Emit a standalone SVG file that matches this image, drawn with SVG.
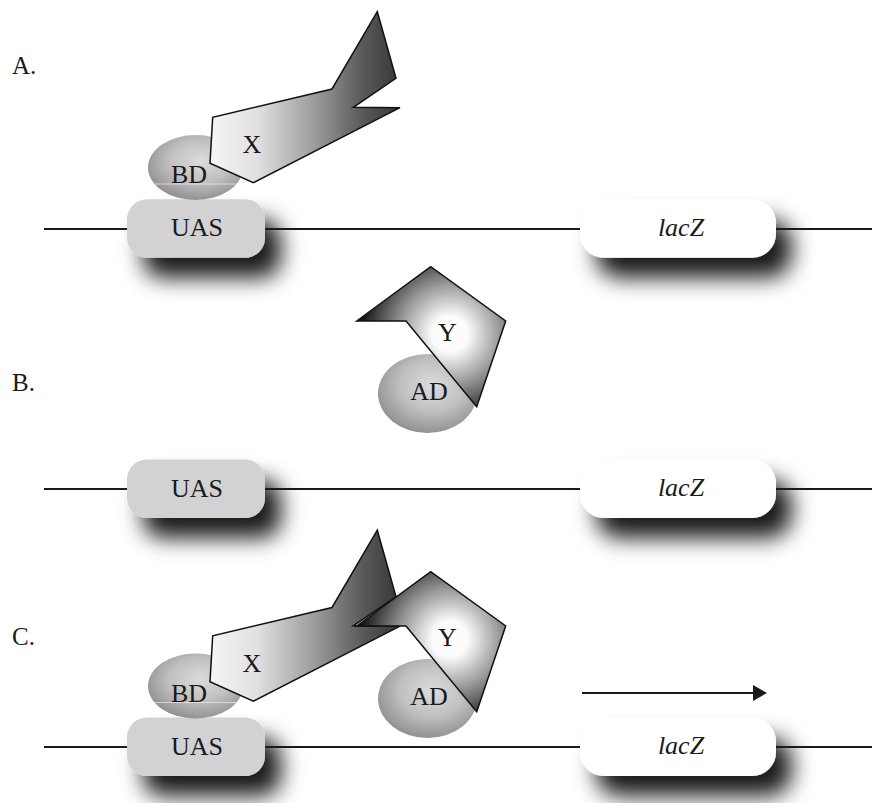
<svg xmlns="http://www.w3.org/2000/svg" width="885" height="803" viewBox="0 0 885 803">
  <style>
    .lbl { font-family: "Liberation Serif", "Times New Roman", serif; font-size: 25px; fill: #1a1a1a; }
    .txt { font-family: "Liberation Serif", "Times New Roman", serif; font-size: 26px; fill: #1a1a1a; text-anchor: middle; }
    .ital { font-style: italic; }
    .dna { stroke: #1a1a1a; stroke-width: 2; fill: none; }
    .uas { fill: #d2d2d4; }
    .lacz { fill: #ffffff; }
    .prot { stroke: #111; stroke-width: 1.5; stroke-linejoin: miter; }
    .seam { stroke: #ececec; stroke-width: 1; opacity: 0.7; }
  </style>
  <defs>
    <filter id="shadow" x="-30%" y="-50%" width="180%" height="260%">
      <feGaussianBlur in="SourceAlpha" stdDeviation="11"/>
      <feOffset dx="16" dy="20" result="blur"/>
      <feFlood flood-color="#000" flood-opacity="0.9"/>
      <feComposite in2="blur" operator="in"/>
      <feMerge>
        <feMergeNode/>
        <feMergeNode in="SourceGraphic"/>
      </feMerge>
    </filter>
    <radialGradient id="gBall" cx="0.55" cy="0.4" r="0.65">
      <stop offset="0" stop-color="#dcdcdc"/>
      <stop offset="0.5" stop-color="#c0c0c0"/>
      <stop offset="1" stop-color="#8a8a8a"/>
    </radialGradient>
    <linearGradient id="gX" x1="0" y1="0" x2="1" y2="0">
      <stop offset="0" stop-color="#f6f6f6"/>
      <stop offset="0.25" stop-color="#e0e0e0"/>
      <stop offset="0.55" stop-color="#9c9c9c"/>
      <stop offset="0.8" stop-color="#5a5a5a"/>
      <stop offset="1" stop-color="#363636"/>
    </linearGradient>
    <radialGradient id="gY" gradientUnits="userSpaceOnUse" cx="450" cy="334" r="90">
      <stop offset="0" stop-color="#ffffff"/>
      <stop offset="0.2" stop-color="#fbfbfb"/>
      <stop offset="0.55" stop-color="#9a9a9a"/>
      <stop offset="1" stop-color="#111"/>
    </radialGradient>

    <!-- reusable parts -->
    <rect id="box" x="0" y="0" width="138" height="58.5" rx="20" ry="20"/>
    <rect id="boxL" x="0" y="0" width="196" height="58.5" rx="24" ry="24"/>
    <polygon id="xShape" points="212.7,117.3 210,163.3 253.3,182.7 400,107.7 353.3,107.3 396,78.3 377.3,11.7 332,89"/>
    <polygon id="yShape" points="356.7,321 430.7,266.7 505.7,321 476.7,406.7 406,321"/>
  </defs>

  <!-- panel labels -->
  <g id="labels">
    <text class="lbl" x="12" y="74">A.</text>
    <text class="lbl" x="12" y="391">B.</text>
    <text class="lbl" x="12" y="645">C.</text>
  </g>

  <!-- Panel A -->
  <g id="uas-a" filter="url(#shadow)">
    <use href="#box" class="uas" x="127" y="199.3"/>
  </g>
  <g id="lacz-a" filter="url(#shadow)">
    <use href="#boxL" class="lacz" x="580" y="199.3"/>
  </g>

  <!-- Panel B -->
  <g id="uas-b" filter="url(#shadow)">
    <use href="#box" class="uas" x="127" y="459.5"/>
  </g>
  <g id="lacz-b" filter="url(#shadow)">
    <use href="#boxL" class="lacz" x="580" y="459.5"/>
  </g>

  <!-- Panel C -->
  <g id="uas-c" filter="url(#shadow)">
    <use href="#box" class="uas" x="127" y="717.5"/>
  </g>
  <g id="lacz-c" filter="url(#shadow)">
    <use href="#boxL" class="lacz" x="580" y="717.5"/>
  </g>

  <!-- DNA strands and transcription arrow -->
  <g id="connectors">
    <path class="dna" d="M44,229H127M265,229H580M776,229H872"/>
    <path class="dna" d="M44,489H127M265,489H580M776,489H872"/>
    <path class="dna" d="M44,747H127M265,747H580M776,747H872"/>
    <line x1="582" y1="693" x2="755" y2="693" stroke="#1a1a1a" stroke-width="2"/>
    <polygon points="753,685 767,693 753,701" fill="#1a1a1a"/>
  </g>

  <!-- box labels -->
  <g id="box-text">
    <text class="txt" x="197" y="236">UAS</text>
    <text class="txt ital" x="681" y="236">lacZ</text>
    <text class="txt" x="197" y="497">UAS</text>
    <text class="txt ital" x="681" y="496">lacZ</text>
    <text class="txt" x="197" y="755">UAS</text>
    <text class="txt ital" x="681" y="754">lacZ</text>
  </g>

  <!-- Panel A: BD-X bait -->
  <g id="bd-a">
    <ellipse cx="195.5" cy="167.5" rx="47.5" ry="32.5" fill="url(#gBall)"/>
    <line class="seam" x1="154.6" y1="184" x2="236.4" y2="184"/>
    <text class="txt" x="189" y="183">BD</text>
  </g>
  <g id="x-a">
    <use href="#xShape" class="prot" fill="url(#gX)"/>
    <text class="txt" x="252" y="153">X</text>
  </g>

  <!-- Panel B: AD-Y prey -->
  <g id="ad-b">
    <ellipse cx="427.5" cy="393.5" rx="49.5" ry="39.5" fill="url(#gBall)"/>
    <text class="txt" x="429" y="400">AD</text>
  </g>
  <g id="y-b">
    <use href="#yShape" class="prot" fill="url(#gY)"/>
    <text class="txt" x="447.5" y="341">Y</text>
  </g>

  <!-- Panel C: bait and prey together -->
  <g id="bd-c" transform="translate(0,518.5)">
    <ellipse cx="195.5" cy="167.5" rx="47.5" ry="32.5" fill="url(#gBall)"/>
    <line class="seam" x1="154.6" y1="184" x2="236.4" y2="184"/>
    <text class="txt" x="189" y="183">BD</text>
  </g>
  <g id="x-c" transform="translate(0,518.5)">
    <use href="#xShape" class="prot" fill="url(#gX)"/>
    <text class="txt" x="252" y="153">X</text>
  </g>
  <g id="ad-c" transform="translate(0,305)">
    <ellipse cx="427.5" cy="393.5" rx="49.5" ry="39.5" fill="url(#gBall)"/>
    <text class="txt" x="429" y="400">AD</text>
  </g>
  <g id="y-c" transform="translate(0,305)">
    <use href="#yShape" class="prot" fill="url(#gY)"/>
    <text class="txt" x="447.5" y="341">Y</text>
  </g>
</svg>
